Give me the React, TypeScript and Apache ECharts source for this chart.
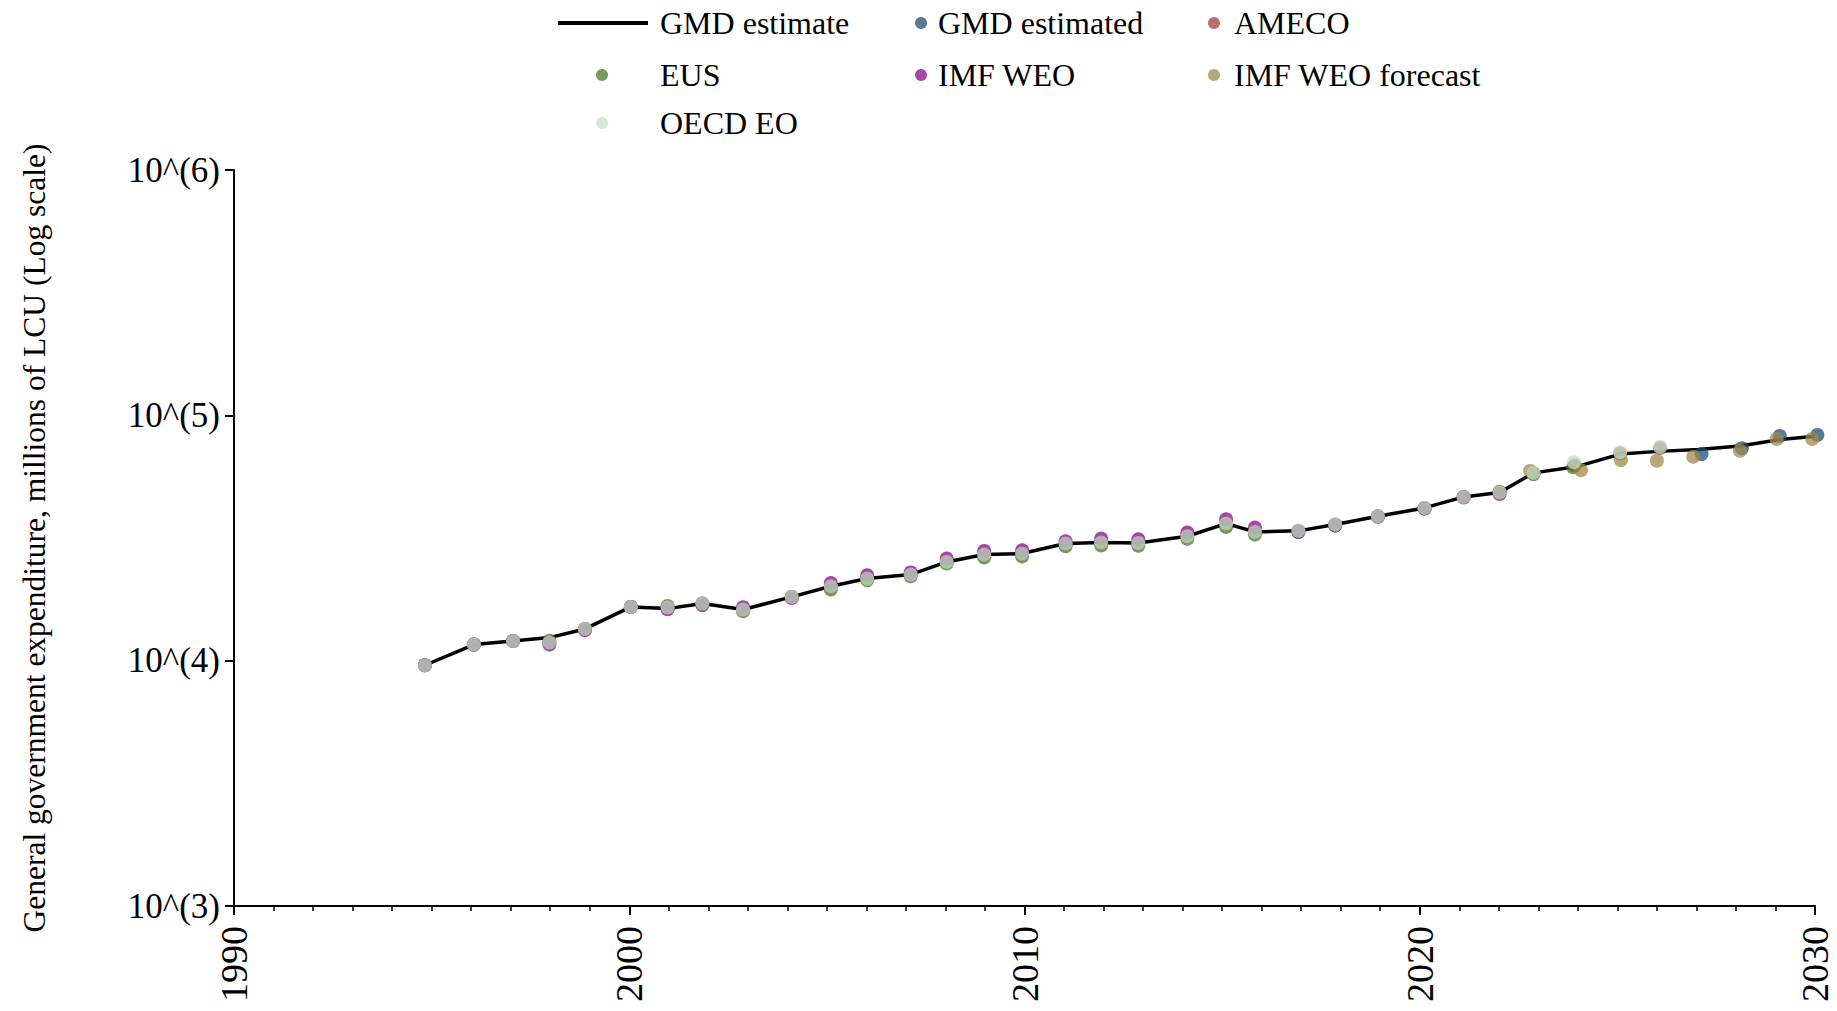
import React, { useEffect, useRef } from "react";
import * as echarts from "echarts";

// Historical positions (years, as placed in the chart) for 1995..2022
const histX = [1994.83, 1996.07, 1997.06, 1997.98, 1998.88, 2000.04, 2000.97, 2001.85, 2002.88, 2004.11, 2005.10, 2006.02, 2007.12, 2008.03, 2008.98, 2009.94, 2011.04, 2011.94, 2012.88, 2014.12, 2015.10, 2015.83, 2016.93, 2017.86, 2018.94, 2020.12, 2021.11, 2022.02];

const oecdHist = [9580, 11630, 12030, 11850, 13470, 16560, 16470, 17090, 16160, 18190, 20110, 21610, 22440, 25260, 27080, 27330, 30040, 30310, 30200, 32150, 36220, 33490, 33810, 35870, 38800, 41940, 46500, 48460];
const oecdRecentX = [2022.88, 2023.90, 2025.07, 2026.08];
const oecdRecent = [58270, 64420, 70740, 74490];

const amecoHist = [9580, 11630, 12030, 11850, 13470, 16560, 16470, 17090, 16160, 18190, 20110, 21610, 22440, 25260, 27080, 27330, 30040, 30310, 30200, 32150, 36220, 33490, 33810, 35870, 38800, 41940, 46500, 48460];
const amecoRecentX = [2022.88, 2023.92, 2025.07, 2026.08];
const amecoRecent = [58000, 62500, 69900, 73600];

const eusHist = [9580, 11630, 12030, 12050, 13470, 16560, 16700, 17090, 15900, 18190, 19500, 21300, 22100, 24900, 26330, 26600, 29300, 29500, 29400, 31400, 35080, 32700, 33500, 35600, 38600, 41700, 46300, 48800];
const eusRecentX = [2022.88, 2023.88];
const eusRecent = [57600, 61460];

const imfHist = [9580, 11630, 12030, 11650, 13300, 16560, 16200, 16850, 16500, 18000, 20740, 22300, 22900, 26070, 28010, 28180, 30690, 31470, 31260, 33290, 37720, 34890, 33500, 35600, 38700, 41700, 46500, 47800];

const imfForecastX = [2022.79, 2024.08, 2025.09, 2026.00, 2026.92, 2028.10, 2029.03, 2029.93];
const imfForecast = [59370, 59740, 65640, 65280, 67770, 71750, 80170, 80170];

const gmdEstimatedX = [2027.13, 2028.15, 2029.11, 2030.06];
const gmdEstimated = [69500, 73450, 82440, 83230];

const gmdLineRecentX = [2022.88, 2023.95, 2025.07, 2026.05, 2027.05, 2028.10, 2029.05, 2030.0];
const gmdLine = [9580, 11630, 12030, 12420, 13470, 16560, 16300, 17090, 16160, 18190, 20110, 21610, 22440, 25260, 27080, 27330, 30040, 30310, 30200, 32150, 36220, 33490, 33810, 35870, 38800, 41940, 46500, 48460, 58270, 61660, 69500, 71300, 72600, 75000, 79400, 82200];

const xTicks = [1990, 2000, 2010, 2020, 2030];

const FONT = "'Liberation Serif', 'DejaVu Serif', serif";
const OPA = 0.75;

const pairs = (xs: number[], ys: number[]) => xs.map((x, i) => [x, ys[i]]);

export default function App() {
  const ref = useRef<HTMLDivElement>(null);
  useEffect(() => {
    if (!ref.current) return;
    const chart = echarts.init(ref.current, undefined, { renderer: "svg" });
    const textStyle = { fontFamily: FONT, fontSize: 32, color: "#000" };
    const scatter = (name: string, color: string, data: number[][]) => ({
      name,
      type: "scatter",
      data,
      symbolSize: 14,
      clip: false,
      z: 3,
      itemStyle: { color, opacity: OPA },
      emphasis: { disabled: true },
    });
    const legendItem = (name: string, color: string, left: number, top: number, w: number, icon = "circle", h = 12, pad = 0) => ({
      data: [{ name, itemStyle: { color, opacity: 1 } }],
      left,
      top,
      icon,
      itemWidth: w,
      itemHeight: h,
      selectedMode: false,
      padding: 0,
      textStyle: { ...textStyle, padding: [0, 0, 0, pad] },
    });
    chart.setOption({
      animation: false,
      backgroundColor: "#fff",
      grid: { left: 234, right: 22, top: 170, bottom: 105 },
      legend: [
        legendItem("GMD estimate", "#000", 558, 7, 90, "rect", 4, 7),
        legendItem("GMD estimated", "#567a9a", 915, 7, 12, "circle", 12, 6),
        legendItem("AMECO", "#b86e72", 1208, 7, 12, "circle", 12, 9),
        legendItem("EUS", "#7b965f", 596, 59, 12, "circle", 12, 47),
        legendItem("IMF WEO", "#a846a4", 915, 59, 12, "circle", 12, 6),
        legendItem("IMF WEO forecast", "#b8a777", 1208, 59, 12, "circle", 12, 9),
        legendItem("OECD EO", "#d0e8d5", 596, 107, 12, "circle", 12, 47),
      ],
      xAxis: {
        type: "value",
        min: xTicks[0],
        max: xTicks[xTicks.length - 1],
        interval: 10,
        splitLine: { show: false },
        axisLine: { lineStyle: { color: "#000", width: 2 } },
        axisTick: { length: 9, lineStyle: { color: "#000", width: 2 } },
        minorTick: { show: true, splitNumber: 10, length: 5, lineStyle: { color: "#000", width: 1.5 } },
        axisLabel: {
          rotate: 90,
          margin: 20,
          fontFamily: FONT,
          fontSize: 38,
          color: "#000",
          formatter: (v: number) => String(Math.round(v)),
        },
      },
      yAxis: {
        type: "log",
        logBase: 10,
        min: 1000,
        max: 1000000,
        splitLine: { show: false },
        axisLine: { show: true, lineStyle: { color: "#000", width: 2 } },
        axisTick: { show: true, length: 9, lineStyle: { color: "#000", width: 2 } },
        axisLabel: {
          margin: 14,
          fontFamily: FONT,
          fontSize: 35,
          color: "#000",
          formatter: (v: number) => `10^(${Math.round(Math.log10(v))})`,
        },
        name: "General government expenditure, millions of LCU (Log scale)",
        nameLocation: "middle",
        nameGap: 184,
        nameTextStyle: { fontFamily: FONT, fontSize: 31.5, color: "#000" },
      },
      series: [
        {
          name: "GMD estimate",
          type: "line",
          data: pairs([...histX, ...gmdLineRecentX], gmdLine),
          showSymbol: false,
          z: 1,
          lineStyle: { color: "#000", width: 3.5 },
          itemStyle: { color: "#000" },
          emphasis: { disabled: true },
        },
        scatter("GMD estimated", "#1e4e78", pairs(gmdEstimatedX, gmdEstimated)),
        scatter("AMECO", "#a03e43", pairs([...histX, ...amecoRecentX], [...amecoHist, ...amecoRecent])),
        scatter("EUS", "#4f732a", pairs([...histX, ...eusRecentX], [...eusHist, ...eusRecent])),
        scatter("IMF WEO", "#8b0886", pairs(histX, imfHist)),
        scatter("IMF WEO forecast", "#a08a4a", pairs(imfForecastX, imfForecast)),
        scatter("OECD EO", "#c0e0c7", pairs([...histX, ...oecdRecentX], [...oecdHist, ...oecdRecent])),
      ],
    });
    return () => chart.dispose();
  }, []);
  return <div ref={ref} style={{ position: "fixed", left: 0, top: 0, width: 1837, height: 1011 }} />;
}
